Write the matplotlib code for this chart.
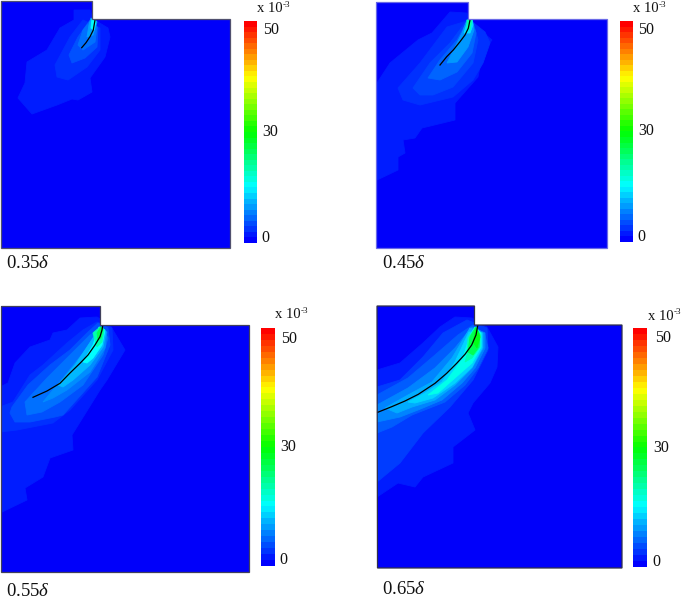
import matplotlib
matplotlib.use("Agg")
import matplotlib.pyplot as plt
from matplotlib.colors import LinearSegmentedColormap
from matplotlib.patches import Polygon
import numpy as np

plt.rcParams['font.family'] = ['Liberation Serif', 'DejaVu Serif']
plt.rcParams['mathtext.fontset'] = 'custom'
plt.rcParams['mathtext.it'] = 'Liberation Serif:italic'
plt.rcParams['mathtext.rm'] = 'Liberation Serif'

captions = ["0.35", "0.45", "0.55", "0.65"]
tick_labels = ["50", "30", "0"]

# outline of the section, image pixels
outline_a = [(0.5, 1), (92, 1), (92, 19), (230, 19), (230, 248), (0.5, 248)]
outline_b = [(376.5, 2), (468, 2), (468, 19), (607, 19), (607, 248), (376.5, 248)]
outline_c = [(0.5, 306), (100, 306), (100, 325), (249.5, 325), (249.5, 572), (0.5, 572)]
outline_d = [(377, 306), (474.5, 306), (474.5, 325), (622, 325), (622, 568), (377.5, 568)]

# crack paths
crack_a = [(81.7, 47.7), (86, 42.7), (90, 36.7), (93.3, 30), (95, 20)]
crack_b = [(440, 65), (446.7, 56.7), (453.3, 50), (460, 41.7), (465, 35), (468.3, 28.3), (470, 20)]
crack_c = [(33, 397.3), (47, 391), (60, 383.3), (70, 373), (80, 363.3), (88, 355), (95, 345), (100, 336.7),
           (102, 330), (102.7, 325.7)]
crack_d = [(377.7, 412.3), (391.7, 406.7), (405, 401), (418.3, 394.3), (435, 383.3), (446.7, 373.3), (456.7, 363.3),
           (465, 354.3), (471.7, 345), (476, 335), (477.7, 325.7)]

# contour bands: (colour scale position, boundary)
bands_a = [
    (.03, [(74, 10), (90, 10), (93, 19), (108, 28), (110, 37), (105, 57), (90, 78), (92, 92), (78, 100), (72, 99),
           (57, 105), (32, 114), (18, 98), (25, 83), (27, 62), (47, 50), (60, 28), (74, 20)]),
    (.05, [(83, 20), (100, 28), (100, 50), (87, 67), (68, 80), (57, 77), (55, 65), (70, 37)]),
    (.08, [(90, 20), (98, 28), (97, 47), (85, 58), (72, 63), (69, 55), (78, 37)]),
    (.11, [(91, 20), (97, 27), (95, 42), (83, 50), (78, 45), (83, 30)]),
    (.16, [(91, 18), (97, 22), (93, 35), (87, 37), (89, 25)]),
    (.25, [(92, 19), (96, 21), (94, 30), (91, 28)]),
]
bands_b = [
    (.03, [(450, 12), (467, 13), (468, 19), (480, 30), (492, 40), (483, 52), (478, 77), (455, 103), (455, 120),
           (422, 128), (415, 138), (403, 140), (405, 153), (398, 157), (398, 170), (377, 180), (377, 83), (390, 63),
           (418, 40), (432, 33)]),
    (.05, [(470, 20), (485, 32), (490, 43), (483, 63), (473, 80), (453, 97), (420, 105), (403, 100), (398, 88),
           (420, 63), (447, 27)]),
    (.07, [(413, 88), (420, 95), (433, 95), (453, 87), (473, 63), (478, 40), (473, 22), (465, 23), (450, 43), (430, 63)]),
    (.10, [(428, 78), (440, 80), (457, 72), (472, 53), (476, 33), (472, 20), (467, 22), (457, 40), (440, 60)]),
    (.15, [(447, 63), (457, 62), (468, 47), (474, 30), (472, 20), (467, 20), (462, 33)]),
    (.22, [(464, 33), (470, 33), (473, 25), (472, 19), (468, 20)]),
    (.33, [(467, 20), (472, 20), (470, 30), (467, 28)]),
]
bands_c = [
    (.03, [(97, 317), (110, 325), (125, 350), (107, 380), (100, 390), (72, 435), (73, 450), (50, 458), (43, 477),
           (25, 488), (27, 500), (0, 513), (0, 387), (8, 383), (15, 363), (30, 347), (50, 340), (53, 333), (67, 330),
           (80, 318)]),
    (.05, [(0, 407), (13, 402), (30, 375), (43, 365), (67, 343), (83, 330), (97, 322), (112, 328), (113, 350),
           (97, 380), (70, 410), (53, 423), (17, 430), (0, 432)]),
    (.08, [(10, 413), (12, 407), (28, 385), (50, 365), (70, 350), (87, 333), (98, 323), (108, 328), (110, 345),
           (97, 377), (63, 415), (55, 417), (30, 422), (15, 422)]),
    (.11, [(27, 415), (25, 402), (47, 378), (70, 355), (90, 335), (103, 328), (108, 338), (103, 355), (83, 385),
           (60, 402), (42, 412)]),
    (.14, [(43, 402), (63, 378), (87, 348), (100, 327), (107, 332), (105, 348), (90, 372), (67, 390), (53, 398)]),
    (.18, [(58, 385), (75, 365), (93, 338), (101, 327), (106, 332), (103, 347), (90, 365), (73, 380), (63, 387)]),
    (.25, [(83, 362), (93, 345), (99, 327), (105, 330), (102, 345), (93, 358), (87, 363)]),
    (.33, [(93, 333), (100, 327), (104, 330), (102, 342), (97, 347)]),
    (.42, [(97, 333), (101, 327), (103, 328), (101, 338), (98, 340)]),
]
bands_d = [
    (.03, [(455, 317), (472, 318), (487, 327), (498, 347), (497, 367), (490, 383), (473, 403), (468, 413), (475, 430),
           (453, 447), (453, 463), (423, 477), (415, 487), (398, 483), (377, 497), (377, 370), (400, 363), (423, 343),
           (440, 327)]),
    (.06, [(377, 387), (400, 380), (423, 357), (443, 333), (467, 320), (487, 328), (488, 350), (473, 380), (450, 407),
           (423, 433), (400, 463), (377, 482)]),
    (.09, [(377, 395), (408, 378), (435, 355), (458, 335), (473, 325), (485, 335), (488, 348), (478, 368), (465, 385),
           (445, 402), (412, 415), (392, 427), (377, 433)]),
    (.13, [(377, 405), (408, 388), (435, 368), (455, 348), (472, 327), (485, 333), (485, 348), (475, 368), (462, 383),
           (442, 400), (418, 410), (400, 417), (377, 422)]),
    (.17, [(385, 408), (408, 395), (432, 382), (452, 358), (470, 328), (483, 333), (483, 348), (472, 368), (455, 385),
           (435, 400), (412, 407), (397, 413)]),
    (.21, [(408, 402), (425, 393), (442, 382), (455, 362), (469, 332), (482, 333), (482, 348), (472, 367), (455, 383),
           (433, 398), (415, 403)]),
    (.27, [(428, 395), (447, 380), (463, 358), (470, 335), (475, 327), (481, 333), (481, 347), (472, 363), (455, 378),
           (438, 393)]),
    (.33, [(467, 355), (468, 338), (476, 327), (480, 335), (480, 347), (472, 358), (465, 362)]),
    (.42, [(468, 352), (470, 337), (476, 327), (480, 335), (479, 347), (473, 355)]),
    (.48, [(473, 342), (476, 328), (480, 337), (477, 348)]),
]

cmap = LinearSegmentedColormap.from_list("rainbow5", ["#0000ff", "#00ffff", "#00ff00", "#ffff00", "#ff0000"])

fig = plt.figure(figsize=(6.85, 6.04), dpi=100)
ax = fig.add_axes([0, 0, 1, 1])

panels = [
    dict(outline=outline_a, bands=bands_a, crack=crack_a, edge="#50506e", bar=(244, 257, 21, 243),
         tick_x=[263, 262, 261], tick_y=[30, 132, 238], unit=(257, 9), cap=(6, 263)),
    dict(outline=outline_b, bands=bands_b, crack=crack_b, edge="#6a6ae8", bar=(620, 633, 21, 242),
         tick_x=[638, 638, 637], tick_y=[30, 131, 237], unit=(633, 9), cap=(382, 263)),
    dict(outline=outline_c, bands=bands_c, crack=crack_c, edge="#40405c", bar=(261, 275, 328, 566),
         tick_x=[281, 280, 279], tick_y=[339, 447, 560], unit=(275, 315), cap=(6, 592)),
    dict(outline=outline_d, bands=bands_d, crack=crack_d, edge="#30304a", bar=(633, 647, 328, 567),
         tick_x=[655, 653, 652], tick_y=[338, 448, 562], unit=(648, 316), cap=(382, 589)),
]

gradient = np.linspace(1, 0, 40).reshape(-1, 1)

for panel, cap in zip(panels, captions):
    body = Polygon(panel["outline"], closed=True, facecolor="#0000fa", edgecolor="none", zorder=1)
    ax.add_patch(body)
    for level, pts in panel["bands"]:
        band = Polygon(pts, closed=True, facecolor=cmap(level), edgecolor=cmap(level), linewidth=0.6, zorder=2)
        ax.add_patch(band)
        band.set_clip_path(body)
    xs, ys = zip(*panel["crack"])
    ax.plot(xs, ys, color="black", lw=0.9, zorder=3)
    ax.add_patch(Polygon(panel["outline"], closed=True, facecolor="none", edgecolor=panel["edge"], lw=0.9, zorder=4))

    x0, x1, y0, y1 = panel["bar"]
    ax.imshow(gradient, cmap=cmap, vmin=0, vmax=1, extent=(x0, x1, y1, y0), aspect="auto", zorder=2,
              interpolation="nearest")
    for lab, tx, ty in zip(tick_labels, panel["tick_x"], panel["tick_y"]):
        ax.text(tx, ty, lab, fontsize=11.5, ha="left", va="center", color="#111111")
    ux, uy = panel["unit"]
    ax.text(ux, uy, "x 10", fontsize=10.5, ha="left", va="center", color="#111111")
    ax.text(ux + 26, uy - 4, "-3", fontsize=6.5, ha="left", va="center", color="#111111")
    cx, cy = panel["cap"]
    ax.text(cx, cy, cap + r"$\mathit{\delta}$", fontsize=13.5, ha="left", va="center", color="#111111")

ax.set_xlim(0, 685)
ax.set_ylim(604, 0)
ax.axis("off")
fig.savefig("out.png", dpi=100)
